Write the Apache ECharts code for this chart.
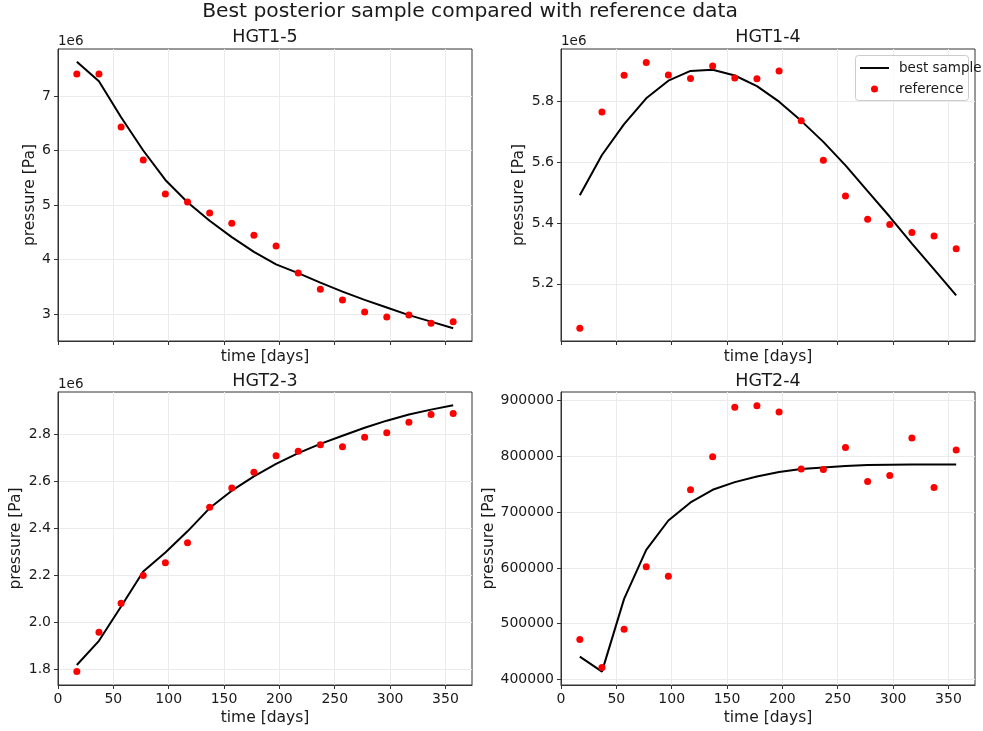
<!DOCTYPE html>
<html>
<head>
<meta charset="utf-8">
<script src="https://cdn.jsdelivr.net/npm/echarts@6/dist/echarts.min.js"></script>
<style>html,body{margin:0;padding:0;background:#fff}#c{width:983px;height:731px}</style>
</head>
<body>
<div id="c"></div>
<script>
// ---- data ----
const days = [17, 37, 57, 77, 97, 117, 137, 157, 177, 197, 217, 237, 257, 277, 297, 317, 337, 357];

const hgt15Best = [7630000, 7269000, 6610000, 6000000, 5460000, 5050000, 4710000, 4410000, 4140000, 3910000, 3750000, 3575000, 3410000, 3260000, 3120000, 2980000, 2860000, 2740000];
const hgt15Ref  = [7404000, 7404000, 6431000, 5826000, 5202000, 5055000, 4853000, 4664000, 4443000, 4248000, 3752000, 3453000, 3257000, 3037000, 2945000, 2982000, 2829000, 2859000];

const hgt14Best = [5491000, 5623000, 5724000, 5809000, 5867000, 5899000, 5903000, 5884000, 5849000, 5798000, 5735000, 5666000, 5589000, 5504000, 5420000, 5332000, 5247000, 5162000];
const hgt14Ref  = [5054000, 5764000, 5885000, 5927000, 5886000, 5874000, 5915000, 5876000, 5873000, 5899000, 5735000, 5606000, 5488000, 5412000, 5395000, 5368000, 5357000, 5315000];

const hgt23Best = [1818000, 1921000, 2067000, 2216000, 2297000, 2387000, 2486000, 2560000, 2621000, 2674000, 2720000, 2759000, 2794000, 2828000, 2858000, 2884000, 2905000, 2924000];
const hgt23Ref  = [1790000, 1958000, 2081000, 2199000, 2253000, 2338000, 2489000, 2571000, 2638000, 2709000, 2728000, 2756000, 2747000, 2787000, 2807000, 2851000, 2884000, 2889000];

const hgt24Best = [440700, 413800, 544300, 632300, 685000, 717400, 740100, 753900, 764100, 771900, 777200, 780200, 782600, 784400, 785000, 785600, 785600, 785600];
const hgt24Ref  = [471300, 421000, 489800, 601800, 585000, 740100, 799400, 888000, 891000, 879600, 777200, 776600, 816200, 755100, 765900, 832900, 744300, 811400];

const xTicks = [0, 50, 100, 150, 200, 250, 300, 350];
const yTicks15 = [3000000, 4000000, 5000000, 6000000, 7000000];
const yTicks14 = [5200000, 5400000, 5600000, 5800000];
const yTicks23 = [1800000, 2000000, 2200000, 2400000, 2600000, 2800000];
const yTicks24 = [400000, 500000, 600000, 700000, 800000, 900000];

const titles = ['HGT1-5', 'HGT1-4', 'HGT2-3', 'HGT2-4'];
const suptitle = 'Best posterior sample compared with reference data';
// ---- end data ----

const FONT = 'DejaVu Sans';
const AX = '#333333';
const TXT = '#1a1a1a';
const GRIDC = '#ebebeb';
const TICKFS = 14;

const panels = [
  {best: hgt15Best, ref: hgt15Ref, ticks: yTicks15, min: 2505000, max: 7862000, fmt: v => String(Math.round(v / 1e6)), off: '1e6', bottom: false, yGap: 20},
  {best: hgt14Best, ref: hgt14Ref, ticks: yTicks14, min: 5012000, max: 5971000, fmt: v => (v / 1e6).toFixed(1), off: '1e6', bottom: false, yGap: 34},
  {best: hgt23Best, ref: hgt23Ref, ticks: yTicks23, min: 1733000, max: 2980000, fmt: v => (v / 1e6).toFixed(1), off: '1e6', bottom: true, yGap: 34},
  {best: hgt24Best, ref: hgt24Ref, ticks: yTicks24, min: 389820, max: 915570, fmt: v => String(v), off: '', bottom: true, yGap: 63}
];

const gridPos = [
  {left: 58, top: 49, width: 414, height: 292},
  {left: 561, top: 49, width: 414, height: 292},
  {left: 58, top: 392, width: 414, height: 293},
  {left: 561, top: 392, width: 414, height: 293}
];

const grid = gridPos.map(g => Object.assign({show: true, borderColor: AX, borderWidth: 1, backgroundColor: 'transparent', containLabel: false}, g));

const xAxis = panels.map((p, i) => ({
  type: 'value', gridIndex: i, min: 0, max: 374,
  axisLine: {show: true, onZero: false, lineStyle: {color: AX, width: 1}},
  axisTick: {show: true, length: 4, inside: false, customValues: xTicks, lineStyle: {color: AX}},
  axisLabel: {show: p.bottom, customValues: xTicks, fontSize: TICKFS, color: TXT, margin: 7, fontFamily: FONT},
  splitLine: {show: true, lineStyle: {color: GRIDC, width: 1}},
  name: 'time [days]', nameLocation: 'middle', nameGap: p.bottom ? 25 : 8,
  nameTextStyle: {fontSize: 15.5, color: TXT, fontFamily: FONT}
}));

const yAxis = panels.map((p, i) => ({
  type: 'value', gridIndex: i, min: p.min, max: p.max,
  axisLine: {show: true, onZero: false, lineStyle: {color: AX, width: 1}},
  axisTick: {show: true, length: 4, inside: false, customValues: p.ticks, lineStyle: {color: AX}},
  axisLabel: {show: true, customValues: p.ticks, fontSize: TICKFS, color: TXT, margin: 7, fontFamily: FONT, formatter: p.fmt},
  splitLine: {show: true, lineStyle: {color: GRIDC, width: 1}},
  name: 'pressure [Pa]', nameLocation: 'middle', nameGap: p.yGap,
  nameTextStyle: {fontSize: 15.5, color: TXT, fontFamily: FONT}
}));

const series = [];
panels.forEach((p, i) => {
  series.push({
    name: 'best sample', type: 'line', xAxisIndex: i, yAxisIndex: i,
    data: days.map((d, k) => [d, p.best[k]]),
    symbol: 'none', showSymbol: false,
    lineStyle: {color: '#000000', width: 2}, itemStyle: {color: '#000000'},
    z: 2, animation: false
  });
  series.push({
    name: 'reference', type: 'scatter', xAxisIndex: i, yAxisIndex: i,
    data: days.map((d, k) => [d, p.ref[k]]),
    symbol: 'circle', symbolSize: 7,
    itemStyle: {color: '#ff0000', opacity: 1}, z: 3, animation: false
  });
});

const titleCfg = [
  {text: suptitle, left: 470, top: 2, textAlign: 'center', textStyle: {fontSize: 20.3, fontWeight: 'normal', color: TXT, fontFamily: FONT}},
  {text: titles[0], left: 265, top: 28, textAlign: 'center', textStyle: {fontSize: 17.5, fontWeight: 'normal', color: TXT, fontFamily: FONT}},
  {text: titles[1], left: 768, top: 28, textAlign: 'center', textStyle: {fontSize: 17.5, fontWeight: 'normal', color: TXT, fontFamily: FONT}},
  {text: titles[2], left: 265, top: 372, textAlign: 'center', textStyle: {fontSize: 17.5, fontWeight: 'normal', color: TXT, fontFamily: FONT}},
  {text: titles[3], left: 768, top: 372, textAlign: 'center', textStyle: {fontSize: 17.5, fontWeight: 'normal', color: TXT, fontFamily: FONT}}
];
titleCfg.forEach(t => { t.padding = 0; });

const graphic = [];
panels.forEach((p, i) => {
  if (p.off) {
    graphic.push({type: 'text', left: gridPos[i].left, top: gridPos[i].top - 15,
      style: {text: p.off, fontSize: 13.5, fill: TXT, fontFamily: FONT}});
  }
});
// legend frame
graphic.push({type: 'rect', left: 855, top: 55, z: 90,
  shape: {width: 113, height: 45, r: 3},
  style: {fill: 'rgba(255,255,255,0.8)', stroke: '#cccccc', lineWidth: 1}});

const chart = echarts.init(document.getElementById('c'), null, {renderer: 'canvas'});
chart.setOption({
  animation: false,
  backgroundColor: '#ffffff',
  textStyle: {fontFamily: FONT},
  title: titleCfg,
  grid: grid,
  xAxis: xAxis,
  yAxis: yAxis,
  legend: {
    show: true, orient: 'vertical', left: 860, top: 61, z: 100,
    itemWidth: 29, itemHeight: 7, itemGap: 7,
    padding: 0,
    textStyle: {fontSize: 13.5, color: TXT, fontFamily: FONT, padding: [0, 0, 0, 5]},
    data: [
      {name: 'best sample', icon: 'path://M0,0 H30 V2 H0 Z', itemStyle: {color: '#000000'}},
      {name: 'reference', icon: 'circle', itemStyle: {color: '#ff0000', opacity: 1}}
    ]
  },
  graphic: graphic,
  series: series
});
</script>
</body>
</html>
